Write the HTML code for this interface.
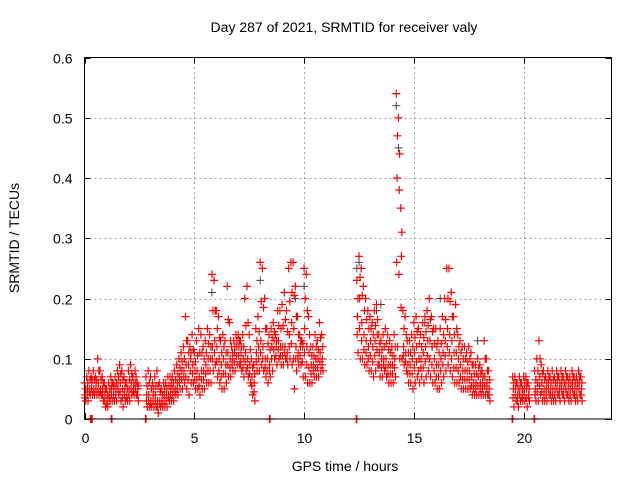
<!DOCTYPE html>
<html><head><meta charset="utf-8"><style>
body{margin:0;background:#fff;}
svg{display:block;font-family:"Liberation Sans",sans-serif;}
</style></head><body>
<svg id="chart" width="640" height="480" viewBox="0 0 640 480">
<rect width="640" height="480" fill="#fff"/>
<text x="344" y="32" font-size="14" text-anchor="middle" fill="#000">Day 287 of 2021, SRMTID for receiver valy</text>
<text transform="translate(19,238) rotate(-90)" font-size="14" text-anchor="middle" fill="#000">SRMTID / TECUs</text>
<text x="345" y="471" font-size="14" text-anchor="middle" fill="#000">GPS time / hours</text>
<g id="grid"></g>
<g id="ticks"></g>
<g id="marks"></g>
<rect x="84.5" y="57.5" width="527" height="361.5" fill="none" stroke="#000" stroke-width="1"/>
</svg>
<script>
const xTicks=[0,5,10,15,20];
const yTicks=[0,0.1,0.2,0.3,0.4,0.5,0.6];
const yTickLabels=["0","0.1","0.2","0.3","0.4","0.5","0.6"];
const times=[0.0,0.1,0.2,0.3,0.4,0.5,0.6,0.7,0.8,0.9,1.0,1.1,1.2,1.3,1.4,1.5,1.6,1.7,1.8,1.9,2.0,2.1,2.2,2.3,2.4,
2.8,2.9,3.0,3.1,3.2,3.3,3.4,3.5,3.6,3.7,3.8,3.9,
4.0,4.1,4.2,4.3,4.4,4.5,4.6,4.7,4.8,4.9,
5.0,5.1,5.2,5.3,5.4,5.5,5.6,5.7,5.8,5.9,
6.0,6.1,6.2,6.3,6.4,6.5,6.6,6.7,6.8,6.9,
7.0,7.1,7.2,7.3,7.4,7.5,7.6,7.7,7.8,7.9,
8.0,8.1,8.2,8.3,8.4,8.5,8.6,8.7,8.8,8.9,
9.0,9.1,9.2,9.3,9.4,9.5,9.6,9.7,9.8,9.9,
10.0,10.1,10.2,10.3,10.4,10.5,10.6,10.7,10.8,
12.4,12.5,12.6,12.7,12.8,12.9,13.0,13.1,13.2,13.3,
13.4,13.5,13.6,13.7,13.8,13.9,14.0,14.1,14.2,14.3,
14.4,14.5,14.6,14.7,14.8,14.9,15.0,15.1,15.2,15.3,
15.4,15.5,15.6,15.7,15.8,15.9,16.0,16.1,16.2,16.3,
16.4,16.5,16.6,16.7,16.8,16.9,17.0,17.1,17.2,17.3,
17.4,17.5,17.6,17.7,17.8,17.9,18.0,18.1,18.2,18.3,18.4,
19.5,19.6,19.7,19.8,19.9,20.0,20.1,20.2,
20.5,20.6,20.7,20.8,20.9,21.0,21.1,21.2,21.3,21.4,21.5,21.6,21.7,21.8,21.9,22.0,22.1,22.2,22.3,22.4,22.5,22.6];
const hiVals=[.06,.07,.08,.07,.08,.07,.10,.08,.07,.06,.05,.06,.07,.06,.07,.08,.09,.08,.07,.06,.08,.09,.07,.08,.06,
.07,.08,.07,.06,.07,.08,.06,.05,.06,.06,.07,.07,
.07,.08,.09,.10,.11,.12,.17,.13,.12,.14,
.11,.13,.15,.14,.12,.13,.15,.14,.24,.23,
.18,.17,.13,.14,.13,.22,.16,.12,.13,.14,
.14,.13,.14,.20,.22,.14,.10,.09,.15,.17,
.26,.25,.20,.15,.14,.15,.16,.14,.18,.18,
.19,.21,.18,.25,.26,.26,.22,.17,.14,.13,
.25,.24,.17,.12,.12,.14,.13,.16,.14,
.23,.27,.25,.22,.20,.18,.17,.16,.18,.19,
.14,.13,.14,.15,.14,.13,.12,.14,.54,.50,
.35,.18,.17,.13,.13,.14,.16,.17,.15,.14,
.16,.17,.18,.20,.17,.15,.15,.13,.15,.17,
.20,.25,.25,.21,.17,.19,.14,.13,.12,.12,
.11,.12,.11,.09,.09,.10,.09,.08,.13,.10,.08,
.07,.07,.06,.07,.06,.07,.07,.06,
.08,.10,.13,.09,.08,.07,.08,.07,.08,.07,.08,.07,.08,.07,.08,.07,.07,.08,.07,.07,.08,.07];
const midVals=[.04,.05,.05,.06,.05,.06,.06,.05,.05,.04,.03,.04,.05,.05,.05,.06,.06,.05,.05,.04,.05,.06,.05,.06,.05,
.04,.04,.03,.04,.04,.03,.03,.03,.04,.04,.04,.05,
.05,.05,.06,.07,.08,.08,.09,.09,.10,.09,
.08,.08,.07,.08,.08,.09,.10,.10,.12,.13,
.12,.10,.09,.10,.09,.11,.10,.10,.11,.12,
.12,.11,.10,.11,.10,.09,.07,.06,.11,.12,
.13,.12,.10,.10,.09,.12,.13,.12,.13,.12,
.12,.12,.11,.14,.16,.15,.12,.11,.12,.12,
.15,.12,.11,.09,.09,.10,.10,.11,.10,
.17,.20,.16,.14,.13,.12,.13,.12,.13,.14,
.11,.10,.10,.10,.09,.09,.09,.10,.40,.38,
.27,.12,.11,.09,.09,.10,.11,.12,.10,.10,
.11,.12,.13,.13,.12,.10,.09,.09,.10,.11,
.13,.15,.14,.13,.11,.11,.10,.09,.08,.08,
.08,.08,.07,.06,.06,.07,.06,.06,.07,.06,.05,
.05,.05,.04,.05,.04,.05,.05,.04,
.05,.06,.07,.06,.05,.05,.06,.05,.05,.05,.06,.05,.06,.05,.06,.05,.05,.06,.05,.05,.06,.05];
const loVals=[.03,.03,.04,.04,.04,.04,.04,.04,.03,.02,.02,.03,.03,.03,.03,.04,.03,.02,.03,.03,.03,.04,.04,.04,.03,
.02,.02,.02,.02,.02,.01,.02,.02,.02,.02,.03,.03,
.03,.04,.04,.05,.05,.06,.05,.04,.06,.06,
.05,.05,.04,.05,.05,.06,.06,.06,.08,.09,
.07,.06,.05,.05,.06,.07,.07,.08,.08,.09,
.09,.08,.07,.08,.07,.06,.04,.03,.08,.08,
.09,.08,.07,.06,.07,.08,.10,.09,.10,.09,
.09,.10,.09,.10,.09,.05,.08,.09,.09,.07,
.07,.06,.06,.06,.07,.07,.07,.08,.08,
.11,.10,.10,.09,.09,.08,.08,.07,.08,.09,
.07,.07,.08,.07,.06,.06,.06,.07,.12,.10,
.10,.09,.08,.06,.06,.05,.06,.07,.06,.07,
.06,.07,.08,.07,.06,.06,.05,.05,.06,.07,
.08,.09,.08,.07,.06,.06,.06,.05,.05,.05,
.05,.05,.04,.04,.04,.04,.04,.04,.04,.04,.03,
.02,.03,.02,.03,.03,.03,.02,.03,
.03,.03,.04,.03,.03,.03,.04,.03,.03,.03,.04,.03,.04,.03,.04,.03,.03,.04,.03,.03,.04,.03];
const zeroTimes=[0.27,0.3,0.35,1.22,1.25,2.78,2.8,8.42,8.45,12.38,12.4,19.48,19.5,20.48,20.5];
const blackTimes=[12.4,12.5,14.2,14.3,9.6,8.0,13.5,13.3,15.5,16.2,17.9,5.8,10.0,7.1];
const blackVals=[.25,.26,.52,.45,.20,.23,.19,.18,.16,.20,.13,.21,.22,.09];

const X0=84.5,X1=611.5,Y0=419,Y1=57.5,XMAX=24,YMAX=0.6;
const xs=t=>X0+t/XMAX*(X1-X0);
const ys=v=>Y0-v/YMAX*(Y0-Y1);
const NS="http://www.w3.org/2000/svg";
const grid=document.getElementById('grid'),ticks=document.getElementById('ticks'),marks=document.getElementById('marks');
function mk(tag,attrs,parent){const e=document.createElementNS(NS,tag);for(const k in attrs)e.setAttribute(k,attrs[k]);parent.appendChild(e);return e;}
yTicks.forEach((v,i)=>{
  const y=Math.round(ys(v))+0.5;
  if(v>0&&v<YMAX){const g=mk('line',{x1:X0,x2:X1,y1:y,y2:y,stroke:'#a0a0a0','stroke-dasharray':'2,3','stroke-width':1},grid);
  
  }
  mk('line',{x1:X0,x2:X0+6,y1:y,y2:y,stroke:'#000'},ticks);
  mk('line',{x1:X1,x2:X1-6,y1:y,y2:y,stroke:'#000'},ticks);
  const t=mk('text',{x:X0-12,y:y+5,'font-size':14,'text-anchor':'end'},ticks);
  t.textContent=yTickLabels[i];
  
  
});
xTicks.forEach(v=>{
  const x=Math.round(xs(v))+0.5;
  if(v>0){const g=mk('line',{x1:x,x2:x,y1:Y0,y2:Y1,stroke:'#a0a0a0','stroke-dasharray':'2,3','stroke-width':1},grid);
  
  }
  mk('line',{x1:x,x2:x,y1:Y0,y2:Y0-6,stroke:'#000'},ticks);
  mk('line',{x1:x,x2:x,y1:Y1,y2:Y1+6,stroke:'#000'},ticks);
  const t=mk('text',{x:x,y:Y0+24,'font-size':14,'text-anchor':'middle'},ticks);
  t.textContent=String(v);
  
  
});
let d='';
function plusPath(t,v){const x=xs(t),y=ys(v);return `M${(x-4).toFixed(1)} ${y.toFixed(1)}h8M${x.toFixed(1)} ${(y-4).toFixed(1)}v8`;}
times.forEach((t,i)=>{
  d+=plusPath(t,hiVals[i]);
  d+=plusPath(t+0.03,midVals[i]);
  d+=plusPath(t+0.06,loVals[i]);
  d+=plusPath(t+0.05,(hiVals[i]+midVals[i])/2);
  d+=plusPath(t+0.02,(midVals[i]+loVals[i])/2);
});
zeroTimes.forEach(t=>{d+=plusPath(t,0);});
let db='';
blackTimes.forEach((t,i)=>{db+=plusPath(t,blackVals[i]);});
const blk=mk('path',{d:db,stroke:'#444','stroke-width':1,fill:'none'},marks);


const red=mk('path',{d:d,stroke:'#ff0000','stroke-width':1.2,fill:'none'},marks);


</script>
</body></html>
